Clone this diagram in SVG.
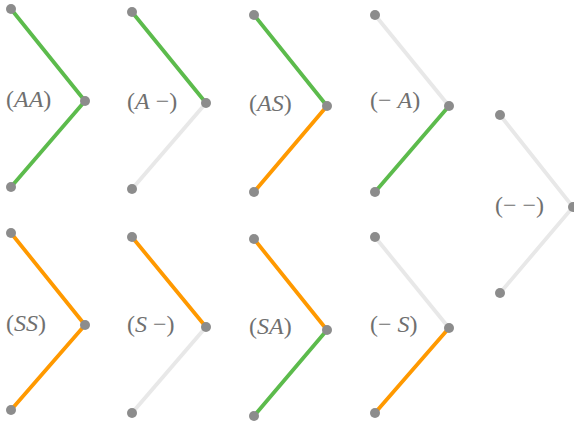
<svg xmlns="http://www.w3.org/2000/svg" width="574" height="422" viewBox="0 0 574 422">
<style>
.a{stroke:#5cbb4c;stroke-width:3.8;stroke-linecap:round;fill:none}
.s{stroke:#ff9900;stroke-width:3.8;stroke-linecap:round;fill:none}
.n{stroke:#e8e8e8;stroke-width:3.8;stroke-linecap:round;fill:none}
.d{fill:#8c8c8c}
text{font-family:'Liberation Serif',serif;font-size:24px;fill:#707070}
.i{font-style:italic}
</style>
<rect width="574" height="422" fill="#fff"/>
<g id="connectors">
<line class="a" x1="11" y1="9" x2="85" y2="101"/><line class="a" x1="85" y1="101" x2="11" y2="187"/>
<line class="a" x1="132" y1="12" x2="206" y2="103"/><line class="n" x1="206" y1="103" x2="132" y2="189"/>
<line class="a" x1="254" y1="15" x2="327" y2="106"/><line class="s" x1="327" y1="106" x2="254" y2="192"/>
<line class="n" x1="375" y1="15" x2="449" y2="106"/><line class="a" x1="449" y1="106" x2="375" y2="192"/>
<line class="n" x1="500" y1="115" x2="573" y2="207"/><line class="n" x1="573" y1="207" x2="500" y2="293"/>
<line class="s" x1="11" y1="233" x2="85" y2="325"/><line class="s" x1="85" y1="325" x2="11" y2="410"/>
<line class="s" x1="132" y1="237" x2="206" y2="327"/><line class="n" x1="206" y1="327" x2="132" y2="413"/>
<line class="s" x1="254" y1="239" x2="327" y2="330"/><line class="a" x1="327" y1="330" x2="254" y2="416"/>
<line class="n" x1="375" y1="237" x2="449" y2="328"/><line class="s" x1="449" y1="328" x2="375" y2="413"/>
</g>
<g id="AA"><circle class="d" cx="11" cy="9" r="5"/><circle class="d" cx="85" cy="101" r="5"/><circle class="d" cx="11" cy="187" r="5"/><text x="6" y="107">(<tspan class="i">AA</tspan>)</text></g>
<g id="Aminus"><circle class="d" cx="132" cy="12" r="5"/><circle class="d" cx="206" cy="103" r="5"/><circle class="d" cx="132" cy="189" r="5"/><text x="127" y="109">(<tspan class="i">A</tspan> −)</text></g>
<g id="AS"><circle class="d" cx="254" cy="15" r="5"/><circle class="d" cx="327" cy="106" r="5"/><circle class="d" cx="254" cy="192" r="5"/><text x="249" y="111">(<tspan class="i">AS</tspan>)</text></g>
<g id="minusA"><circle class="d" cx="375" cy="15" r="5"/><circle class="d" cx="449" cy="106" r="5"/><circle class="d" cx="375" cy="192" r="5"/><text x="370" y="108">(− <tspan class="i">A</tspan>)</text></g>
<g id="minusminus"><circle class="d" cx="500" cy="115" r="5"/><circle class="d" cx="573" cy="207" r="5"/><circle class="d" cx="500" cy="293" r="5"/><text x="495" y="213">(− −)</text></g>
<g id="SS"><circle class="d" cx="11" cy="233" r="5"/><circle class="d" cx="85" cy="325" r="5"/><circle class="d" cx="11" cy="410" r="5"/><text x="6" y="331">(<tspan class="i">SS</tspan>)</text></g>
<g id="Sminus"><circle class="d" cx="132" cy="237" r="5"/><circle class="d" cx="206" cy="327" r="5"/><circle class="d" cx="132" cy="413" r="5"/><text x="127" y="332">(<tspan class="i">S</tspan> −)</text></g>
<g id="SA"><circle class="d" cx="254" cy="239" r="5"/><circle class="d" cx="327" cy="330" r="5"/><circle class="d" cx="254" cy="416" r="5"/><text x="249" y="334">(<tspan class="i">SA</tspan>)</text></g>
<g id="minusS"><circle class="d" cx="375" cy="237" r="5"/><circle class="d" cx="449" cy="328" r="5"/><circle class="d" cx="375" cy="413" r="5"/><text x="370" y="332">(− <tspan class="i">S</tspan>)</text></g>
</svg>
